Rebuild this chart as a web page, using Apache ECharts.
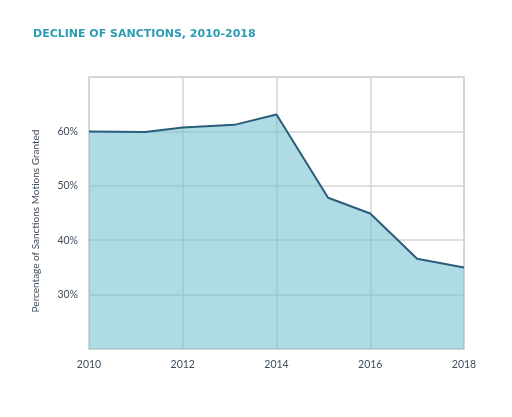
<!DOCTYPE html>
<html>
<head>
<meta charset="utf-8">
<script src="https://cdn.jsdelivr.net/npm/echarts@6/dist/echarts.min.js"></script>
<style>html,body{margin:0;padding:0;background:#fff;}#c{width:512px;height:417px;}</style>
</head>
<body>
<div id="c"></div>
<script>
var years = [2010, 2011.2, 2012, 2013.1, 2014, 2015.1, 2016, 2017, 2018];
var granted = [60.0, 59.9, 60.7, 61.2, 63.1, 47.8, 44.9, 36.6, 35.0];
var yTicks = [30, 40, 50, 60];
var titleText = 'DECLINE OF SANCTIONS, 2010-2018';
var yName = 'Percentage of Sanctions Motions Granted';

var chart = echarts.init(document.getElementById('c'), null, {renderer: 'canvas'});
chart.setOption({
  backgroundColor: '#ffffff',
  animation: false,
  title: {
    text: titleText,
    left: 28, top: 24,
    textStyle: {fontFamily: 'DejaVu Sans', fontWeight: 'bold', fontSize: 11, color: '#2b9db3'}
  },
  grid: {left: 89, right: 48, top: 77, bottom: 68, show: true, borderColor: '#cccccc', borderWidth: 1.5, backgroundColor: 'transparent'},
  xAxis: {
    type: 'value', min: 2010, max: 2018, interval: 2,
    axisLine: {show: false}, axisTick: {show: false},
    axisLabel: {color: '#3d4d5c', fontFamily: 'Lato', fontSize: 10.5, margin: 10, formatter: function(v){return String(v);}},
    splitLine: {show: true, lineStyle: {color: '#d6d6d6', width: 1.5}}
  },
  yAxis: {
    type: 'value', min: 20, max: 70, interval: 10,
    name: yName, nameLocation: 'middle', nameGap: 48, nameRotate: 90,
    nameTextStyle: {color: '#3d4d5c', fontFamily: 'Lato', fontSize: 10, padding: [0, 0, 0, -16]},
    axisLine: {show: false}, axisTick: {show: false},
    axisLabel: {color: '#3d4d5c', fontFamily: 'Lato', fontSize: 10.5, margin: 11,
      formatter: function(v){ return yTicks.indexOf(v) >= 0 ? v + '%' : ''; }},
    splitLine: {show: true, lineStyle: {color: '#d6d6d6', width: 1.5}}
  },
  series: [{
    type: 'line',
    data: years.map(function(y, i){ return [y, granted[i]]; }),
    symbol: 'none',
    lineStyle: {color: '#2a5d7c', width: 2},
    areaStyle: {color: 'rgba(112,190,208,0.56)', opacity: 1, origin: 'start'}
  }]
});
</script>
</body>
</html>
